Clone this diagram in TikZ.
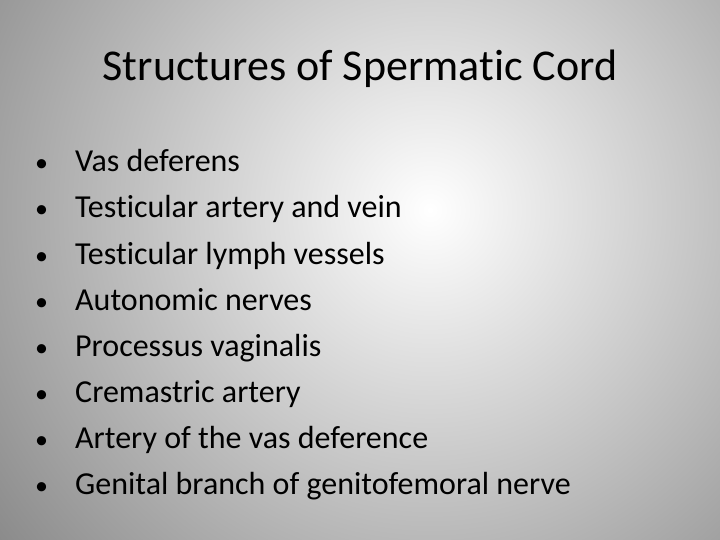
\documentclass[tikz,border=0pt]{standalone}
\usepackage{fontspec}
\setmainfont[Ligatures=NoCommon]{Carlito}
\begin{document}
\begin{tikzpicture}[x=1pt,y=-1pt,
  item/.style={anchor=base west,font=\fontsize{32}{34}\selectfont,inner sep=0pt},
  bul/.style={anchor=base west,font=\fontsize{26}{30}\selectfont,inner sep=0pt}]
\useasboundingbox (0,0) rectangle (720,540);
\clip (0,0) rectangle (720,540);
\shade[inner color=white,outer color=black!52] (430,210) circle (620);
\node[anchor=base,font=\fontsize{44}{48}\selectfont,inner sep=0pt] (title) at (360,81) {Structures of Spermatic Cord};
\foreach \t [count=\i] in {Vas deferens,Testicular artery and vein,Testicular lymph vessels,Autonomic nerves,Processus vaginalis,Cremastric artery,Artery of the vas deference,Genital branch of genitofemoral nerve}{
  \node[bul] (b\i) at (35,{162+46*(\i-1)+10}) {•};
  \node[item] (t\i) at (75,{162+46*(\i-1)+10}) {\t};
}
\end{tikzpicture}
\end{document}
